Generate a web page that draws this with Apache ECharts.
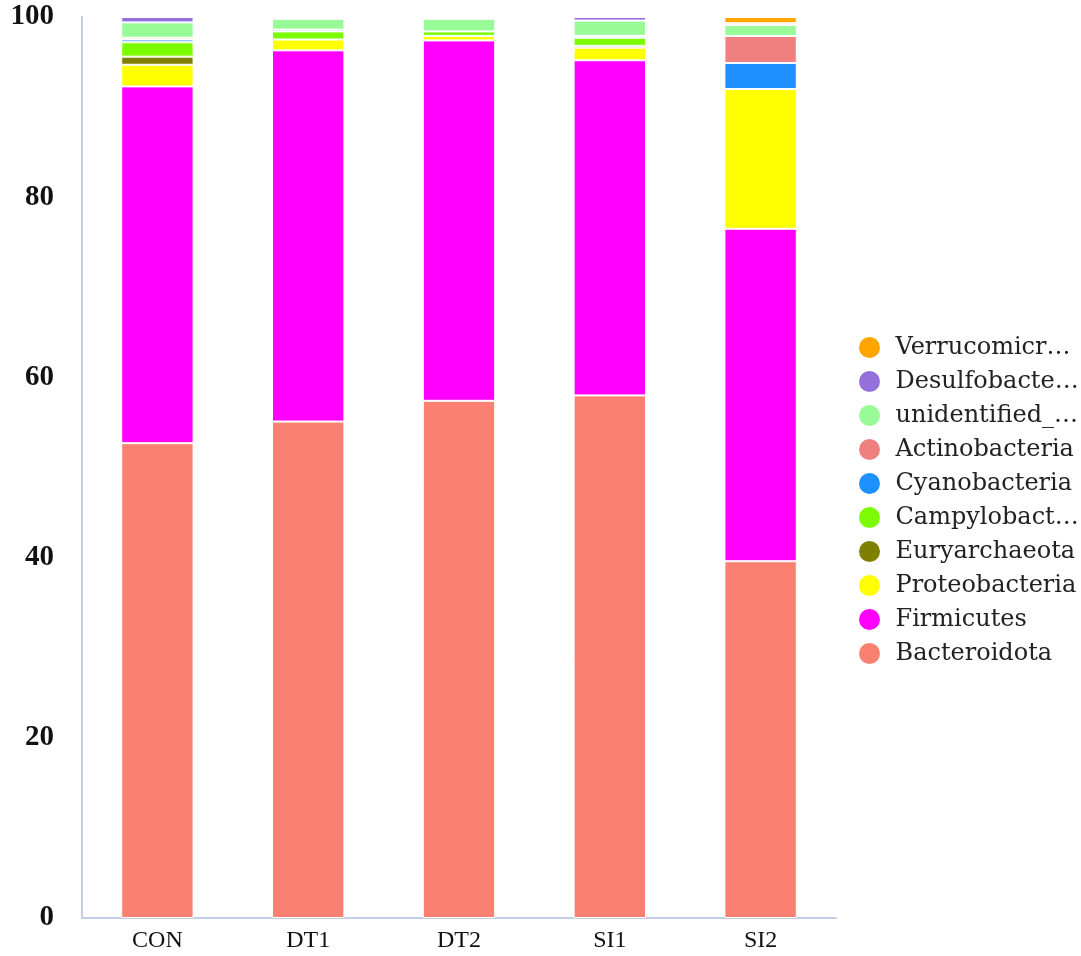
<!DOCTYPE html>
<html>
<head>
<meta charset="utf-8">
<style>html,body{margin:0;padding:0;background:#fff;}#main{width:1081px;height:956px;}</style>
<script src="https://cdn.jsdelivr.net/npm/echarts@6/dist/echarts.min.js"></script>
</head>
<body>
<div id="main"></div>
<script>
var categories = ['CON', 'DT1', 'DT2', 'SI1', 'SI2'];
var yTicks = [0, 20, 40, 60, 80, 100];

var Bacteroidota      = [52.7, 55.1, 57.4, 58.0, 39.6];
var Firmicutes        = [39.6, 41.2, 40.0, 37.2, 36.9];
var Proteobacteria    = [2.4, 1.2, 0.5, 1.4, 15.5];
var Euryarchaeota     = [0.9, 0.0, 0.0, 0.2, 0.0];
var Campylobacterota  = [1.6, 0.9, 0.5, 0.9, 0.0];
var Cyanobacteria     = [0.3, 0.2, 0.0, 0.2, 2.9];
var Actinobacteria    = [0.2, 0.0, 0.0, 0.0, 3.0];
var unidentified      = [1.7, 1.2, 1.4, 1.7, 1.2];
var Desulfobacterota  = [0.6, 0.2, 0.2, 0.4, 0.2];
var Verrucomicrobiota = [0.0, 0.0, 0.0, 0.0, 0.7];

var seriesNames = ['Bacteroidota', 'Firmicutes', 'Proteobacteria', 'Euryarchaeota', 'Campylobacterota',
  'Cyanobacteria', 'Actinobacteria', 'unidentified_Bacteria', 'Desulfobacterota', 'Verrucomicrobiota'];
var legendLabels = ['Bacteroidota', 'Firmicutes', 'Proteobacteria', 'Euryarchaeota', 'Campylobact…',
  'Cyanobacteria', 'Actinobacteria', 'unidentified_…', 'Desulfobacte…', 'Verrucomicr…'];
var seriesData = [Bacteroidota, Firmicutes, Proteobacteria, Euryarchaeota, Campylobacterota,
  Cyanobacteria, Actinobacteria, unidentified, Desulfobacterota, Verrucomicrobiota];
var colors = ['#FA8072', '#FF00FF', '#FFFF00', '#808000', '#7CFC00',
  '#1E90FF', '#F08080', '#98FB98', '#9370DB', '#FFA500'];

var chart = echarts.init(document.getElementById('main'), null, {renderer: 'canvas'});
var series = seriesNames.map(function (n, i) {
  return {
    name: n, type: 'bar', stack: 'total', data: seriesData[i], barWidth: '48%',
    itemStyle: {color: colors[i], borderColor: '#ffffff', borderWidth: 1}
  };
});
chart.setOption({
  animation: false,
  backgroundColor: '#ffffff',
  grid: {left: 82, right: 245, top: 17, bottom: 38},
  legend: {
    orient: 'vertical', left: 852, top: 330,
    data: seriesNames.slice().reverse(),
    icon: 'circle', itemWidth: 42, itemHeight: 23, itemGap: 9,
    formatter: function (name) { return legendLabels[seriesNames.indexOf(name)]; },
    textStyle: {fontFamily: 'DejaVu Serif', fontSize: 24, color: '#222'}
  },
  xAxis: {
    type: 'category', data: categories,
    axisLine: {lineStyle: {color: '#c3cde6', width: 2}},
    axisTick: {show: false},
    axisLabel: {fontFamily: 'Liberation Serif', fontSize: 24, color: '#111', margin: 11}
  },
  yAxis: {
    type: 'value', min: 0, max: 100, interval: 20,
    axisLine: {show: true, lineStyle: {color: '#c3cde6', width: 2}},
    axisTick: {show: false},
    splitLine: {show: false},
    axisLabel: {fontFamily: 'Liberation Serif', fontWeight: 'bold', fontSize: 29, color: '#111', margin: 28,
      formatter: function (v) { return yTicks.indexOf(v) >= 0 ? String(v) : ''; }}
  },
  series: series
});
</script>
</body>
</html>
